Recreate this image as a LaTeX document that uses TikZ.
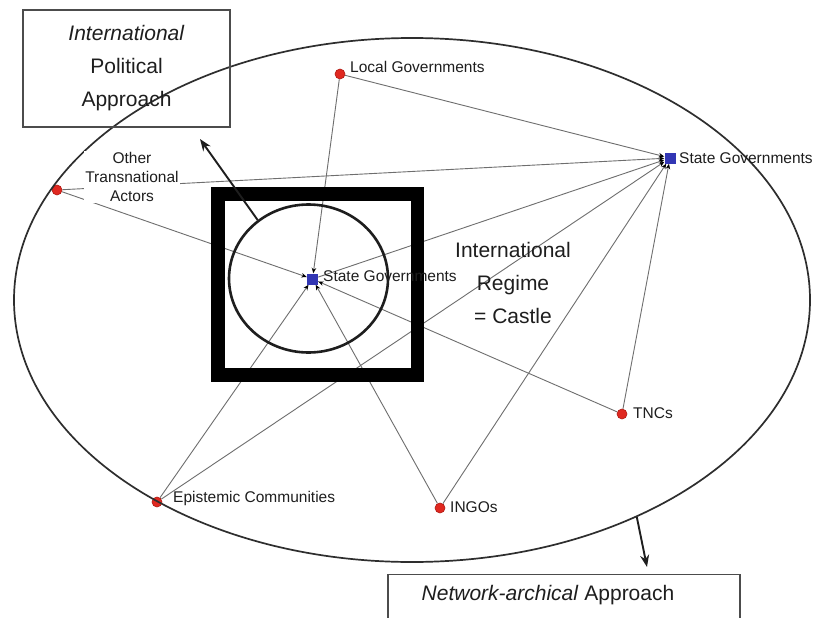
\documentclass[tikz,border=0pt]{standalone}
\usepackage{fontspec}
\setmainfont{Liberation Sans}
\usetikzlibrary{arrows.meta,shapes.geometric}
\pgfdeclarelayer{paper}
\pgfdeclarelayer{links}
\pgfsetlayers{paper,links,main}
\definecolor{dotred}{RGB}{224,40,32}
\definecolor{dotedge}{RGB}{175,25,18}
\definecolor{stateblue}{RGB}{50,54,180}
\definecolor{linkgray}{RGB}{110,110,110}
\definecolor{ink}{RGB}{30,30,30}
\begin{document}
\begin{tikzpicture}[x=1pt,y=-1pt,
  actor/.style={circle,fill=dotred,draw=dotedge,line width=0.6pt,minimum size=10pt,inner sep=0pt},
  statenode/.style={rectangle,fill=stateblue,minimum size=11pt,inner sep=0pt},
  lbl/.style={font=\fontsize{15.5}{19}\selectfont,inner sep=1pt,text=ink},
  big/.style={font=\fontsize{21}{33}\selectfont,align=center,text=ink},
  link/.style={draw=linkgray,line width=0.9pt,-{Stealth[length=5.5pt,width=4.5pt,black]}},
  approachbox/.style={draw=black!70,line width=1.2pt,inner sep=0pt},
  boldarrow/.style={draw=ink,line width=1.9pt,-{Stealth[length=12pt,width=9pt]}}]
\useasboundingbox (0,0) rectangle (816,618);
\clip (0,0) rectangle (816,618);
\begin{pgfonlayer}{paper}
  \fill[white] (0,0) rectangle (816,618);
\end{pgfonlayer}

% the castle: thick frame with the regime circle inside
\node[draw=black,line width=13.5pt,minimum width=199.5pt,minimum height=181pt,inner sep=0pt] (castle) at (317.75,284.5) {};
\node[ellipse,draw=ink,line width=2.6pt,minimum width=159pt,minimum height=148pt,inner sep=0pt] (regime) at (308.5,278.5) {};

% state governments
\node[statenode] (sgc) at (312.5,279) {};
\node[statenode] (sgr) at (670,158) {};

% transnational actors
\node[actor] (lg) at (340,74) {};
\node[actor] (ota) at (57,190) {};
\node[actor] (epi) at (157,502) {};
\node[actor] (ingo) at (440,508) {};
\node[actor] (tnc) at (622,414) {};

% network boundary
\node[ellipse,draw=black!82,line width=1.7pt,minimum width=796pt,minimum height=524pt,inner sep=0pt] (network) at (412,300) {};

% approach boxes
\node[approachbox,big,minimum width=207pt,minimum height=117pt] (ipbox) at (126.5,68.5)
  {\textit{International}\\Political\\Approach};
\node[approachbox,minimum width=352pt,minimum height=80pt,anchor=north] (nabox) at (564,574) {};
\node[big] (natext) at (548,595) {\textit{Network-archical} Approach};

% labels
\node[lbl,anchor=west] (lg-lbl) at (349,67) {Local Governments};
\node[lbl,anchor=west] (sgr-lbl) at (678,158) {State Governments};
\node[lbl,anchor=west] (sgc-lbl) at (322,276) {State Governments};
\node[lbl,anchor=west] (epi-lbl) at (172,498) {Epistemic Communities};
\node[lbl,anchor=west] (ingo-lbl) at (449,507) {INGOs};
\node[lbl,anchor=west] (tnc-lbl) at (632,413) {TNCs};
\node[lbl,align=center,fill=white] (ota-lbl) at (132,177) {Other\\Transnational\\Actors};
\node[big] (regime-lbl) at (513,283) {International\\Regime\\= Castle};

% links between actors and state governments
\begin{pgfonlayer}{links}
  \foreach \a in {lg,ota,epi,ingo,tnc}
    \draw[link] (\a) -- (sgc);
  \foreach \a in {lg,ota,sgc,epi,ingo,tnc}
    \draw[link] (\a) -- (sgr);
\end{pgfonlayer}

% approach arrows
\coordinate (iptip) at (200,139);
\coordinate (natip) at (647,567);
\draw[boldarrow] (regime.131.8) -- (iptip);
\draw[boldarrow] (network.-44.1) -- (natip);
\end{tikzpicture}
\end{document}
